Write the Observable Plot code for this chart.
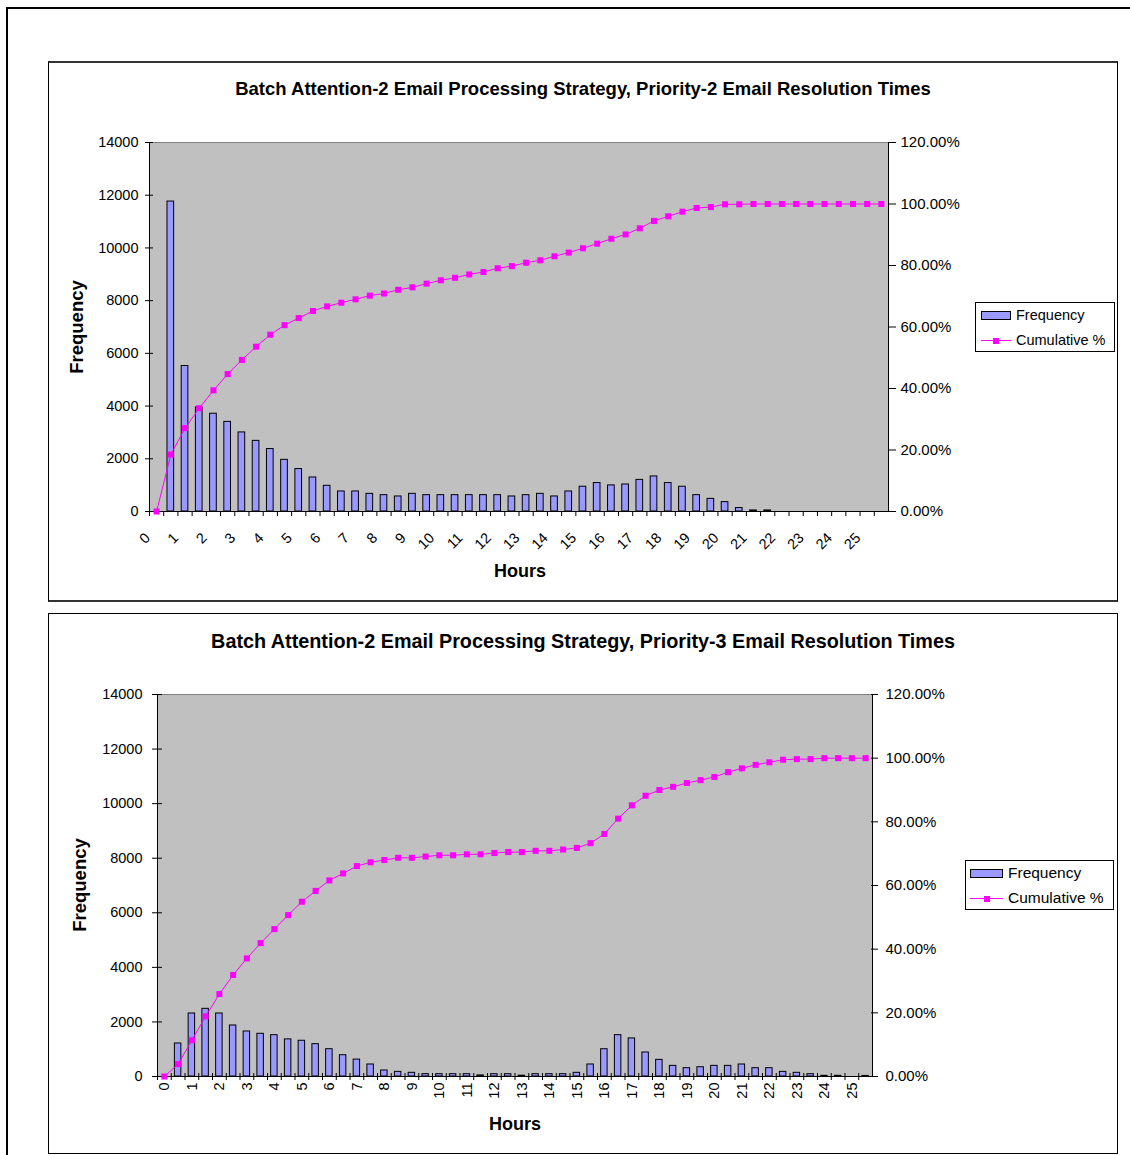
<!DOCTYPE html>
<html>
<head>
<meta charset="utf-8">
<script src="https://cdn.jsdelivr.net/npm/d3@7"></script>
<script src="https://cdn.jsdelivr.net/npm/@observablehq/plot@0.6"></script>
<style>
  body { margin: 0; background: #fff; font-family: "Liberation Sans", Arial, sans-serif; color: #000; }
  #page { position: relative; width: 1130px; height: 1155px; overflow: hidden; background: #fff; }
  .abs { position: absolute; }
  .box { position: absolute; border: 1px solid #000; box-sizing: border-box; background: #fff; }
  .title { position: absolute; font-weight: bold; white-space: nowrap; transform: translate(-50%, -50%); }
  .axt { position: absolute; font-weight: bold; white-space: nowrap; transform: translate(-50%, -50%); font-size: 18px; }
  .axt.rot { transform: translate(-50%, -50%) rotate(-90deg); font-size: 18.5px; }
  .legend { position: absolute; border: 1px solid #000; background: #fff; box-sizing: border-box; }
  .ltext { position: absolute; white-space: nowrap; transform: translateY(-50%); }
  .sw-bar { position: absolute; background: #9999ff; border: 1px solid #000; box-sizing: border-box; }
  .sw-line { position: absolute; height: 1px; background: #ff00ff; }
  .sw-mark { position: absolute; width: 6px; height: 6px; background: #ff00ff; }
  .plotwrap { position: absolute; }
  .plotwrap svg { display: block; max-width: none; }
</style>
</head>
<body>
<div id="page"></div>
<script>
// ---------- data ----------
const categories = ["0","0.5","1","1.5","2","2.5","3","3.5","4","4.5","5","5.5","6","6.5","7","7.5","8","8.5","9","9.5",
  "10","10.5","11","11.5","12","12.5","13","13.5","14","14.5","15","15.5","16","16.5","17","17.5","18","18.5","19","19.5",
  "20","20.5","21","21.5","22","22.5","23","23.5","24","24.5","25","25.5"];
const hourLabels = ["0","1","2","3","4","5","6","7","8","9","10","11","12","13","14","15","16","17","18","19","20","21","22","23","24","25"];

// Priority-2 chart
const freqP2 = [0, 11760, 5520, 3950, 3710, 3400, 3000, 2680, 2370, 1960, 1610, 1290, 975, 760, 760, 670, 620, 570, 670, 620,
  620, 620, 620, 620, 620, 570, 620, 670, 570, 760, 940, 1080, 990, 1025, 1200, 1330, 1080, 940, 620, 480,
  355, 130, 40, 40, 0, 0, 0, 0, 0, 0, 0, 0];
const cumP2 = [0, 18.5, 27.1, 33.6, 39.4, 44.7, 49.3, 53.6, 57.5, 60.6, 62.9, 65.2, 66.7, 67.9, 69.0, 70.2, 70.9, 72.1, 72.9, 74.1,
  75.2, 76.0, 77.1, 77.9, 79.1, 79.8, 80.9, 81.7, 83.0, 84.2, 85.6, 87.1, 88.7, 90.1, 92.1, 94.5, 96.0, 97.5, 98.7, 99.0,
  99.9, 99.9, 100, 100, 100, 100, 100, 100, 100, 100, 100, 100];

// Priority-3 chart
const freqP3 = [0, 1210, 2310, 2480, 2310, 1870, 1650, 1565, 1515, 1360, 1310, 1185, 1000, 780, 620, 440, 220, 170, 135, 85,
  85, 85, 85, 40, 85, 85, 30, 85, 85, 85, 135, 440, 1000, 1515, 1395, 880, 610, 390, 305, 340,
  390, 390, 440, 305, 305, 170, 135, 85, 25, 25, 0, 20];
const cumP3 = [0, 3.9, 11.4, 18.9, 25.9, 31.9, 37.1, 41.9, 46.3, 50.7, 54.9, 58.3, 61.6, 63.8, 66.1, 67.3, 68.0, 68.7, 68.7, 69.1,
  69.5, 69.5, 69.8, 69.8, 70.2, 70.5, 70.5, 70.9, 70.9, 71.3, 71.8, 73.3, 76.2, 81.0, 85.2, 88.2, 90.0, 91.0, 92.2, 93.1,
  94.1, 95.6, 96.8, 97.9, 98.7, 99.5, 99.7, 99.7, 100, 100, 100, 100];

const freqTicks = [0, 2000, 4000, 6000, 8000, 10000, 12000, 14000];
const pctTicks = [0, 20, 40, 60, 80, 100, 120];
const titles = [
  "Batch Attention-2 Email Processing Strategy, Priority-2 Email Resolution Times",
  "Batch Attention-2 Email Processing Strategy, Priority-3 Email Resolution Times"
];
const yTitle = "Frequency";
const xTitle = "Hours";
const legendLabels = ["Frequency", "Cumulative %"];

// ---------- layout ----------
const page = document.getElementById("page");
function el(cls, css, text) {
  const d = document.createElement("div");
  d.className = cls;
  Object.assign(d.style, css);
  if (text != null) d.textContent = text;
  page.appendChild(d);
  return d;
}

// outer frame (top + left)
el("abs", {left: "7px", top: "7px", width: "1130px", height: "2px", background: "#000"});
el("abs", {left: "6px", top: "7px", width: "2px", height: "1160px", background: "#000"});

const charts = [
  {
    box: {left: 48, top: 61, width: 1070, height: 541}, topBorder: "2px solid #333", bottomBorder: "2px solid #333",
    svg: {left: 48, top: 62, width: 1069, height: 539},
    m: {left: 101, right: 229, top: 80, bottom: 90},
    freq: freqP2, cum: cumP2, title: titles[0], titleFont: 18.5, titlePos: [583, 89],
    yLab: [77, 327], xLab: [520, 571],
    leftTick: {size: 8, dx: 4, pad: 11}, rightTick: {size: 8, dx: -1, pad: 12},
    xTick: {size: 5, dy: 0}, xRot: -45, xPad: 12, xLabDx: -9, xLabDy: 12,
    legend: {left: 975, top: 302, width: 140, height: 50, sw: 981, swW: 30, txt: 1016, y1: 315, y2: 340, font: 14.5}
  },
  {
    box: {left: 48, top: 613, width: 1070, height: 541}, topBorder: "1px solid #000", bottomBorder: "1px solid #000",
    svg: {left: 48, top: 613, width: 1069, height: 540},
    m: {left: 109, right: 245, top: 81, bottom: 77},
    freq: freqP3, cum: cumP3, title: titles[1], titleFont: 19.8, titlePos: [583, 641],
    yLab: [80, 885], xLab: [515, 1124],
    leftTick: {size: 10, dx: 5, pad: 15}, rightTick: {size: 7, dx: -2, pad: 13},
    xTick: {size: 7, dy: -3}, xRot: -90, xPad: 6, xLabDx: 0, xLabDy: 0,
    legend: {left: 965, top: 860, width: 149, height: 50, sw: 970, swW: 33, txt: 1008, y1: 873, y2: 898, font: 15.5}
  }
];

for (const c of charts) {
  el("box", {left: c.box.left + "px", top: c.box.top + "px", width: c.box.width + "px", height: c.box.height + "px",
    borderTop: c.topBorder, borderBottom: c.bottomBorder});
  el("title", {left: c.titlePos[0] + "px", top: c.titlePos[1] + "px", fontSize: c.titleFont + "px"}, c.title);
  el("axt rot", {left: c.yLab[0] + "px", top: c.yLab[1] + "px"}, yTitle);
  el("axt", {left: c.xLab[0] + "px", top: c.xLab[1] + "px"}, xTitle);

  const rows = categories.map((cat, i) => ({cat, freq: c.freq[i], cum: c.cum[i]}));
  const W = c.svg.width, H = c.svg.height;
  const step = (W - c.m.left - c.m.right) / categories.length;
  const common = {
    width: W, height: H,
    marginLeft: c.m.left, marginRight: c.m.right, marginTop: c.m.top, marginBottom: c.m.bottom,
    style: {fontFamily: "'Liberation Sans', Arial, sans-serif", fontSize: "14.5px", background: "transparent", color: "#000", overflow: "visible"}
  };

  // layer 1: frequency bars, left axis, category axis
  const p1 = Plot.plot({
    ...common,
    x: {type: "band", domain: categories, paddingInner: 0.53, paddingOuter: 0.265, align: 0.5, round: false, axis: null},
    y: {domain: [0, 14000], axis: null},
    marks: [
      Plot.frame({fill: "#c0c0c0", stroke: "#000"}),
      Plot.ruleY([14000], {stroke: "#808080", strokeWidth: 1}),
      Plot.barY(rows, {x: "cat", y: "freq", fill: "#9999ff", stroke: "#000", strokeWidth: 1}),
      Plot.axisY({ticks: freqTicks, tickSize: c.leftTick.size, dx: c.leftTick.dx, tickFormat: () => "", label: null, stroke: "#000"}),
      Plot.axisY({ticks: freqTicks, tickSize: 0, tickPadding: c.leftTick.pad, tickFormat: d => String(d), label: null, fontSize: 14.5}),
      Plot.axisX({ticks: categories, tickSize: c.xTick.size, dx: -step / 2, dy: c.xTick.dy, tickFormat: () => "", label: null, stroke: "#000"}),
      Plot.axisX({ticks: hourLabels, tickSize: 0, tickPadding: c.xPad, tickRotate: c.xRot, dx: c.xLabDx, dy: c.xLabDy, tickFormat: d => d, label: null, fontSize: 14.5})
    ]
  });
  const w1 = el("plotwrap", {left: c.svg.left + "px", top: c.svg.top + "px", width: W + "px", height: H + "px"});
  w1.appendChild(p1);

  // layer 2: cumulative % line on secondary axis
  const p2 = Plot.plot({
    ...common,
    x: {type: "point", domain: categories, padding: 0.5, align: 0.5, round: false, axis: null},
    y: {domain: [0, 120], axis: null},
    marks: [
      Plot.line(rows, {x: "cat", y: "cum", stroke: "#ff00ff", strokeWidth: 1}),
      Plot.dot(rows, {x: "cat", y: "cum", symbol: "square", r: 3.4, fill: "#ff00ff", stroke: "none"}),
      Plot.axisY({anchor: "right", ticks: pctTicks, tickSize: c.rightTick.size, dx: c.rightTick.dx, tickFormat: () => "", label: null, stroke: "#000"}),
      Plot.axisY({anchor: "right", ticks: pctTicks, tickSize: 0, tickPadding: c.rightTick.pad, tickFormat: d => d.toFixed(2) + "%", label: null, fontSize: 15})
    ]
  });
  const w2 = el("plotwrap", {left: c.svg.left + "px", top: c.svg.top + "px", width: W + "px", height: H + "px"});
  w2.appendChild(p2);

  // legend
  const L = c.legend;
  el("legend", {left: L.left + "px", top: L.top + "px", width: L.width + "px", height: L.height + "px"});
  el("sw-bar", {left: L.sw + "px", top: (L.y1 - 4) + "px", width: L.swW + "px", height: "9px"});
  el("ltext", {left: L.txt + "px", top: L.y1 + "px", fontSize: L.font + "px"}, legendLabels[0]);
  el("sw-line", {left: L.sw + "px", top: L.y2 + "px", width: L.swW + "px"});
  el("sw-mark", {left: (L.sw + L.swW / 2 - 3) + "px", top: (L.y2 - 2.5) + "px"});
  el("ltext", {left: L.txt + "px", top: L.y2 + "px", fontSize: L.font + "px"}, legendLabels[1]);
}
</script>
</body>
</html>
